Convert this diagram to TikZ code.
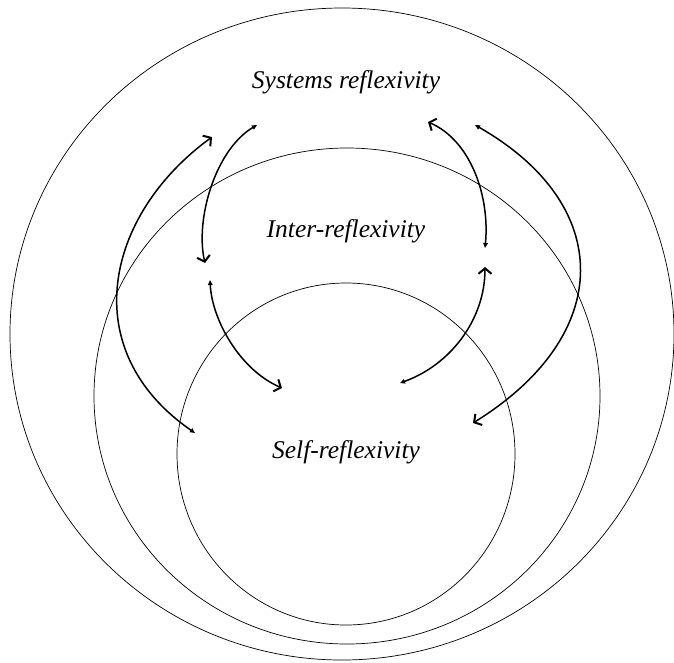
\documentclass[tikz,border=0pt]{standalone}
\usepackage{fontspec}
\setmainfont{Liberation Serif}
\usetikzlibrary{arrows.meta}

\begin{document}
\begin{tikzpicture}[x=1pt,y=-1pt,
  ring/.style={draw=black, line width=0.7pt},
  link/.style={line width=1.5pt, {Triangle[length=5pt,width=4.5pt]}-{Straight Barb[length=5.5pt,width=13pt,line width=2pt]}},
  lbl/.style={anchor=base, font=\fontsize{25.5}{30}\selectfont\itshape}]
\useasboundingbox (0,0) rectangle (674,662);
% the three rings
\draw[ring] (342,334) ellipse [x radius=332pt, y radius=326pt];
\draw[ring] (347,396) ellipse [x radius=253pt, y radius=248pt];
\draw[ring] (346,454) ellipse [x radius=169pt, y radius=171pt];
% labels
\node[lbl] (sys) at (346,88) {Systems reflexivity};
\node[lbl] (inter) at (346,237) {Inter-reflexivity};
\node[lbl] (self) at (346,458) {Self-reflexivity};
% arrow ends
\coordinate (a1s) at (195,433); \coordinate (a1e) at (212,137);
\coordinate (a2s) at (257,125); \coordinate (a2e) at (205,263);
\coordinate (a3s) at (210,280); \coordinate (a3e) at (282,388);
\coordinate (b1s) at (485,248); \coordinate (b1e) at (428,122);
\coordinate (b2s) at (475,125); \coordinate (b2e) at (473,423);
\coordinate (b3s) at (400,383); \coordinate (b3e) at (485,267);
% left side
\draw[link] (a1s) .. controls (75,350) and (105,215) .. (a1e);
\draw[link] (a2s) .. controls (215,150) and (195,220) .. (a2e);
\draw[link] (a3s) .. controls (212,320) and (240,370) .. (a3e);
% right side
\draw[link] (b1s) .. controls (490,195) and (470,140) .. (b1e);
\draw[link] (b2s) .. controls (615,205) and (615,335) .. (b2e);
\draw[link] (b3s) .. controls (450,365) and (485,320) .. (b3e);
\end{tikzpicture}
\end{document}
